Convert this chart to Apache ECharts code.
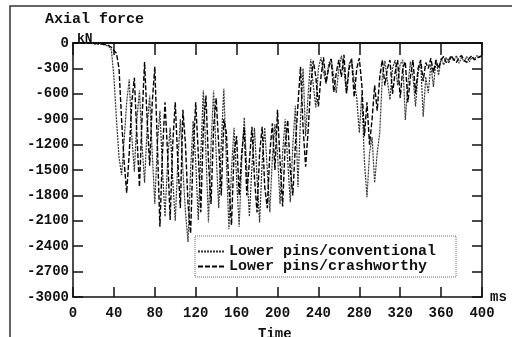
<!DOCTYPE html>
<html>
<head>
<meta charset="utf-8">
<script src="https://cdn.jsdelivr.net/npm/echarts@6/dist/echarts.min.js"></script>
<style>
  html, body { margin: 0; padding: 0; background: #fff; }
  #chart { width: 512px; height: 337px; }
</style>
</head>
<body>
<div id="chart"></div>
<script>
// Axial force in the lower pins, sampled every 2.5 ms from 0 to 400 ms (kN).
const STEP_MS = 2.5;

const seriesNames = ['Lower pins/conventional', 'Lower pins/crashworthy'];

const conventional = [
  0, 0, 0, 0, -2, -3, -5, -6,
  -8, -10, -12, -15, -20, -28, -40, -80,
  -400, -900, -1350, -1560, -1150, -700, -430, -1100,
  -1520, -900, -560, -1200, -1650, -1000, -620, -1300,
  -1900, -1200, -800, -1500, -2050, -1400, -1000, -1600,
  -2100, -1400, -900, -1500, -2000, -2350, -1500, -920,
  -1400, -2090, -1300, -560, -1300, -2120, -1200, -560,
  -1300, -1950, -1200, -540, -1400, -2200, -1500, -1000,
  -1600, -2170, -1400, -880, -1500, -2050, -1450, -1000,
  -1600, -2120, -1400, -1000, -1500, -2000, -1350, -960,
  -1300, -1900, -1300, -900, -1400, -1880, -1200, -740,
  -1700, -900, -300, -1100, -600, -190, -500, -760,
  -300, -170, -350, -480, -250, -180, -400, -590,
  -300, -150, -320, -600, -250, -180, -450, -650,
  -1060, -600, -1400, -1820, -1300, -1110, -1650, -1300,
  -1060, -400, -210, -450, -670, -300, -200, -500,
  -250, -200, -910, -500, -220, -400, -750, -350,
  -220, -870, -400, -590, -250, -520, -200, -380,
  -180, -260, -170, -240, -160, -210, -150, -240,
  -170, -220, -160, -225, -170, -190, -150, -170,
  -165
];

const crashworthy = [
  0, 0, 0, 0, 0, -2, -3, -4,
  -5, -6, -8, -10, -14, -20, -30, -50,
  -90, -120, -300, -900, -1400, -1770, -1300, -700,
  -410, -1100, -1700, -900, -225, -900, -1450, -700,
  -280, -1200, -2170, -1300, -700, -1300, -2090, -1200,
  -700, -1400, -1950, -790, -1200, -1900, -2250, -1300,
  -700, -1300, -2000, -1000, -620, -1400, -1900, -1000,
  -650, -1200, -1800, -900, -1060, -1700, -2150, -1300,
  -1100, -1800, -1300, -1000, -1800, -1400, -990, -1600,
  -2000, -1300, -990, -1700, -1950, -1300, -950, -1500,
  -790, -1400, -1930, -1200, -910, -1500, -1800, -1200,
  -730, -280, -1000, -1460, -1030, -500, -210, -400,
  -750, -400, -170, -470, -300, -190, -580, -350,
  -200, -400, -140, -590, -300, -200, -640, -300,
  -180, -500, -1100, -700, -1200, -900, -500, -800,
  -400, -200, -500, -300, -200, -600, -350, -200,
  -650, -300, -220, -700, -400, -200, -600, -300,
  -200, -450, -230, -300, -180, -350, -200, -300,
  -200, -160, -230, -200, -150, -200, -230, -170,
  -150, -200, -230, -180, -150, -200, -180, -160,
  -150
];

const timeTicks = [0, 40, 80, 120, 160, 200, 240, 280, 320, 360, 400];
const forceTicks = [0, -300, -600, -900, -1200, -1500, -1800, -2100, -2400, -2700, -3000];

const toPairs = values => values.map((v, i) => [i * STEP_MS, v]);

const FONT = 'Liberation Mono';
const INK = '#111';

const chart = echarts.init(document.getElementById('chart'), null, { renderer: 'canvas' });

// Frame axes stay on the grid edges rather than snapping to the zero line.
const valueAxisBase = {
  type: 'value',
  splitLine: { show: false },
  axisLine: { show: true, onZero: false, lineStyle: { color: INK, width: 1.5 } },
  axisTick: { show: true, inside: true, length: 10, lineStyle: { color: INK, width: 1.5 } }
};

const labelFont = { fontFamily: FONT, fontWeight: 'bold', fontSize: 14, fill: INK };

chart.setOption({
  backgroundColor: '#fff',
  animation: false,
  title: {
    text: 'Axial force',
    left: 40,
    top: 7,
    textStyle: { fontFamily: FONT, fontWeight: 'bold', fontSize: 15, color: INK }
  },
  grid: { left: 73, right: 30, top: 43, bottom: 40, containLabel: false },
  legend: {
    orient: 'vertical',
    left: 195,
    top: 236,
    padding: [8, 20, 3, 2],
    itemGap: 0,
    itemWidth: 26,
    itemHeight: 14,
    borderColor: '#666',
    borderWidth: 1,
    borderType: 'dotted',
    itemStyle: { opacity: 0 },
    textStyle: { fontFamily: FONT, fontWeight: 'bold', fontSize: 15, color: INK },
    data: seriesNames
  },
  xAxis: [
    Object.assign({}, valueAxisBase, {
      position: 'bottom',
      min: timeTicks[0],
      max: timeTicks[timeTicks.length - 1],
      interval: timeTicks[1] - timeTicks[0],
      axisLabel: { margin: 9, fontFamily: FONT, fontWeight: 'bold', fontSize: 14, color: INK }
    }),
    Object.assign({}, valueAxisBase, {
      position: 'top',
      min: timeTicks[0],
      max: timeTicks[timeTicks.length - 1],
      interval: timeTicks[1] - timeTicks[0],
      axisLine: { show: true, onZero: false, lineStyle: { color: INK, width: 2 } },
      axisTick: { show: true, inside: true, length: 12, lineStyle: { color: INK, width: 1.5 } },
      axisLabel: { show: false }
    })
  ],
  yAxis: [
    Object.assign({}, valueAxisBase, {
      position: 'left',
      min: forceTicks[forceTicks.length - 1],
      max: forceTicks[0],
      interval: forceTicks[0] - forceTicks[1],
      name: 'kN',
      nameLocation: 'end',
      nameGap: 0,
      nameTextStyle: { fontFamily: FONT, fontWeight: 'bold', fontSize: 13, color: INK, align: 'left', verticalAlign: 'bottom', padding: [0, 0, -2, 4] },
      axisLabel: {
        margin: 4,
        fontFamily: FONT, fontWeight: 'bold', fontSize: 14, color: INK,
        formatter: v => String(v)
      }
    }),
    Object.assign({}, valueAxisBase, {
      position: 'right',
      min: forceTicks[forceTicks.length - 1],
      max: forceTicks[0],
      interval: forceTicks[0] - forceTicks[1],
      axisLabel: { show: false }
    })
  ],
  graphic: [
    {
      type: 'polyline',
      shape: { points: [[10, 337], [10, 6], [512, 6]] },
      style: { stroke: '#333', lineWidth: 1.5, fill: null },
      silent: true
    },
    {
      type: 'text',
      left: 490,
      top: 290,
      style: Object.assign({ text: 'ms' }, labelFont)
    },
    {
      type: 'text',
      left: 258,
      top: 327,
      style: Object.assign({ text: 'Time' }, labelFont)
    }
  ],
  series: [
    {
      name: seriesNames[0],
      type: 'line',
      xAxisIndex: 0,
      yAxisIndex: 0,
      data: toPairs(conventional),
      symbol: 'none',
      smooth: false,
      lineStyle: { color: '#333', width: 1.2, type: [2, 1] },
      itemStyle: { color: '#333' }
    },
    {
      name: seriesNames[1],
      type: 'line',
      xAxisIndex: 0,
      yAxisIndex: 0,
      data: toPairs(crashworthy),
      symbol: 'none',
      smooth: false,
      lineStyle: { color: '#000', width: 1.4, type: [5, 2] },
      itemStyle: { color: '#000' }
    }
  ]
});
</script>
</body>
</html>
